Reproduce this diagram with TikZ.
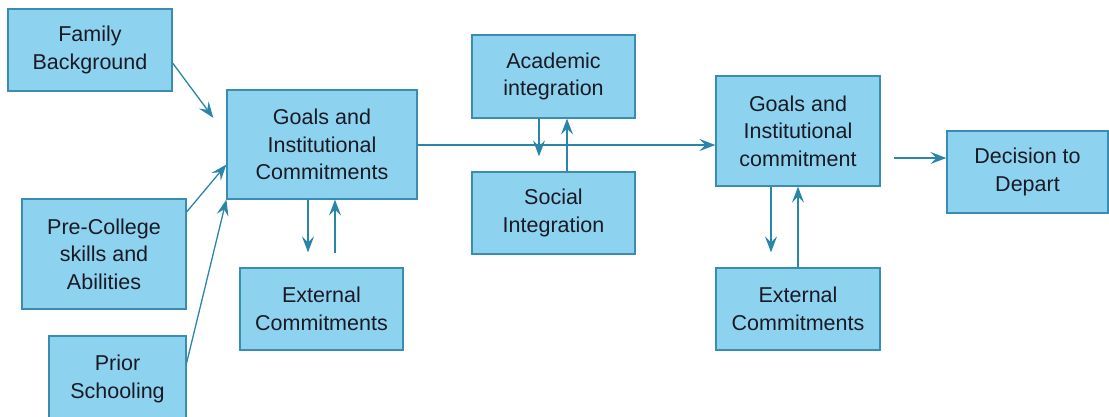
\documentclass[tikz,border=0pt]{standalone}
\usepackage{fontspec}
\setmainfont{Liberation Sans}
\usetikzlibrary{arrows.meta,calc}
\definecolor{boxfill}{HTML}{8DD3F0}
\definecolor{boxline}{HTML}{3A8DAE}
\definecolor{arrowc}{HTML}{2A86A8}
\definecolor{txt}{HTML}{1A1A24}
\tikzset{
  box/.style={draw=boxline, line width=1.2pt, fill=boxfill, inner sep=0pt,
    align=center, text=txt, font=\fontsize{21.5}{27.5}\selectfont},
  conn/.style={draw=arrowc, line width=1.3pt,
    -{Stealth[length=16pt,width=12pt,inset=6pt]}}
}
\begin{document}
\begin{tikzpicture}[x=1pt,y=-1pt]
\useasboundingbox (0,0) rectangle (1109,416);
\node[box, minimum width=164pt, minimum height=82pt] (fam) at (90,50) {Family\\Background};
\node[box, minimum width=190pt, minimum height=109pt] (goals) at (322,144.5) {Goals and\\Institutional\\Commitments};
\node[box, minimum width=164pt, minimum height=110pt] (pre) at (104,254) {Pre-College\\skills and\\Abilities};
\node[box, minimum width=137pt, minimum height=86pt] (prior) at (117.5,379) {Prior\\Schooling};
\node[box, minimum width=163pt, minimum height=82pt] (extL) at (321.5,309) {External\\Commitments};
\node[box, minimum width=163pt, minimum height=83pt] (acad) at (553.5,76.5) {Academic\\integration};
\node[box, minimum width=163pt, minimum height=82pt] (soc) at (553.5,213) {Social\\Integration};
\node[box, minimum width=164pt, minimum height=110pt] (goals2) at (798,131) {Goals and\\Institutional\\commitment};
\node[box, minimum width=164pt, minimum height=82pt] (extR) at (798,309) {External\\Commitments};
\node[box, minimum width=161pt, minimum height=82pt] (dec) at (1027.5,172) {Decision to\\Depart};

% inputs to goals
\draw[conn, shorten >=22pt] ([yshift=-13pt]fam.east) -- ([yshift=9pt]goals.west);
\draw[conn] ([yshift=42pt]pre.east) -- ([yshift=-20pt]goals.west);
\draw[conn] ([yshift=16pt]prior.east) -- (goals.south west);

% goals <-> external left
\draw[conn, shorten >=15pt] ([xshift=-14pt]goals.south) -- ([xshift=-13.5pt]extL.north);
\draw[conn, shorten <=14pt] ([xshift=13.5pt]extL.north) -- ([xshift=13pt]goals.south);

% main horizontal
\coordinate (g2in) at ([yshift=-14pt]goals2.west);
\draw[conn] (goals.east |- g2in) -- (g2in);

% academic <-> social
\draw[conn, shorten >=15pt] ([xshift=-14.5pt]acad.south) -- ([xshift=-14.5pt]soc.north);
\draw[conn] ([xshift=13.5pt]soc.north) -- ([xshift=13.5pt]acad.south);

% goals2 -> decision
\coordinate (decin) at ([yshift=14pt]dec.west);
\draw[conn, shorten <=13pt] (goals2.east |- decin) -- (decin);

% goals2 <-> external right
\draw[conn, shorten >=15pt] ([xshift=-27pt]goals2.south) -- ([xshift=-27pt]extR.north);
\draw[conn] (extR.north) -- (goals2.south);
\end{tikzpicture}
\end{document}
